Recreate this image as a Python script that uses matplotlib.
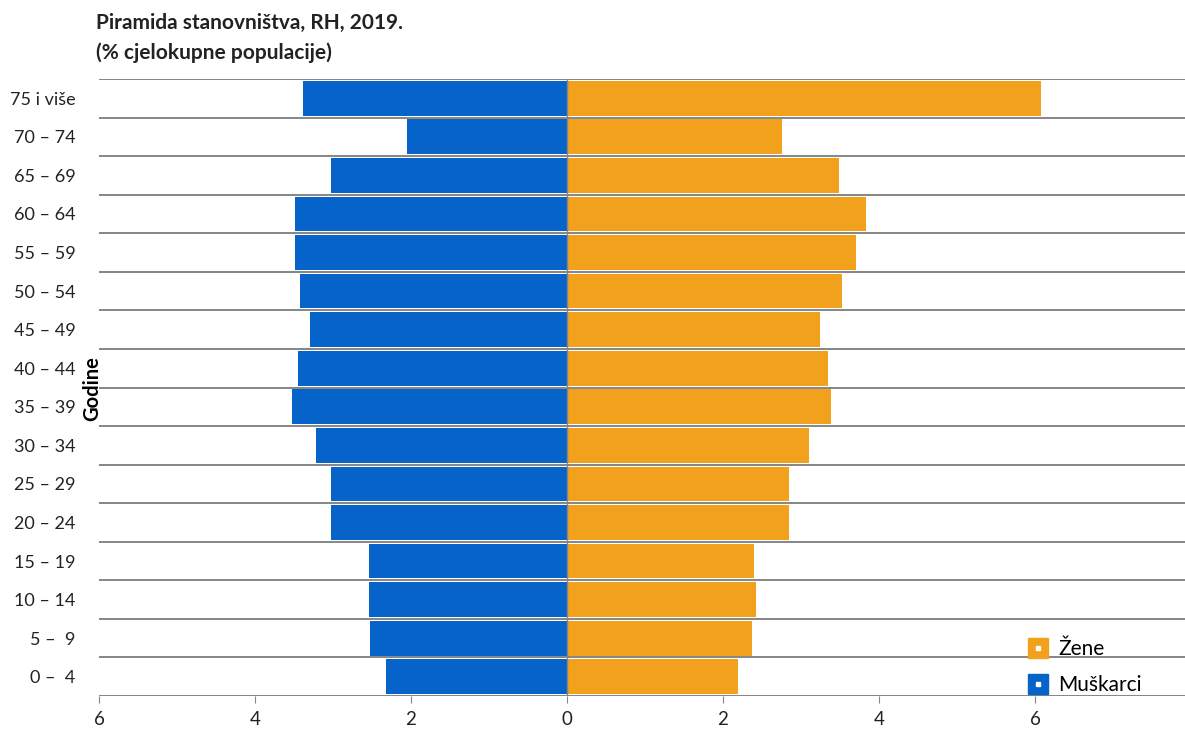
import numpy as np
import matplotlib
matplotlib.use("Agg")
import matplotlib.pyplot as plt
from matplotlib.lines import Line2D

plt.rcParams['font.family'] = ['Lato', 'DejaVu Sans']

# dobne skupine, od najmlađe prema najstarijoj
dobne_skupine = ['0 –  4', '5 –  9', '10 – 14', '15 – 19', '20 – 24', '25 – 29',
                 '30 – 34', '35 – 39', '40 – 44', '45 – 49', '50 – 54', '55 – 59',
                 '60 – 64', '65 – 69', '70 – 74', '75 i više']
muskarci = [2.32, 2.53, 2.54, 2.54, 3.03, 3.03, 3.22, 3.53, 3.45, 3.29, 3.42,
            3.49, 3.49, 3.03, 2.05, 3.38]
zene = [2.19, 2.37, 2.42, 2.40, 2.85, 2.85, 3.10, 3.38, 3.35, 3.24, 3.53,
        3.71, 3.83, 3.49, 2.76, 6.08]
x_oznake = [-6, -4, -2, 0, 2, 4, 6, 8]

plava = '#0563c9'
narancasta = '#f2a11c'
siva = '#858585'

W, H = 1185, 733
fig = plt.figure(figsize=(W / 100, H / 100), dpi=100)
ax = fig.add_axes([99 / W, 1 - 696 / H, 1092 / W, 617 / H])

y = np.arange(len(dobne_skupine))
ax.barh(y, -np.array(muskarci), height=0.9, color=plava, zorder=2)
ax.barh(y, zene, height=0.9, color=narancasta, zorder=2)

# sive linije između skupina
for b in np.arange(-0.5, len(dobne_skupine), 1.0):
    ax.axhline(b, color=siva, lw=1.4, zorder=1)
ax.axvline(0, color=siva, lw=1, zorder=3)

ax.set_xlim(-6, 8)
ax.set_ylim(-0.5, len(dobne_skupine) - 0.5)
ax.set_yticks(y)
ax.set_yticklabels(dobne_skupine, fontsize=13, color='#222222')
ax.set_xticks(x_oznake)
ax.set_xticklabels([str(abs(v)) for v in x_oznake], fontsize=13.5, color='#222222')
ax.tick_params(axis='y', length=0, pad=17)
ax.tick_params(axis='x', length=5, color=siva, pad=6)
for s in ax.spines.values():
    s.set_visible(False)

fig.text(92 / W, 1 - 389 / H, 'Godine', rotation=90, fontsize=14.5,
         fontweight='bold', ha='center', va='center')

fig.text(96 / W, 1 - 23 / H, 'Piramida stanovništva, RH, 2019.', fontsize=15,
         fontweight='bold', ha='left', va='center', color='#222222')
fig.text(96 / W, 1 - 53 / H, '(% cjelokupne populacije)', fontsize=15,
         fontweight='bold', ha='left', va='center', color='#222222')

h_z = (Line2D([], [], ls='', marker='s', ms=14, color=narancasta),
       Line2D([], [], ls='', marker='s', ms=3.5, color='white'))
h_m = (Line2D([], [], ls='', marker='s', ms=14, color=plava),
       Line2D([], [], ls='', marker='s', ms=3.5, color='white'))
fig.legend([h_z, h_m], ['Žene', 'Muškarci'], loc='center left',
           bbox_to_anchor=(1010 / W, 1 - 667 / H), frameon=False, fontsize=15,
           handlelength=0.9, handletextpad=0.5, labelspacing=0.75)

fig.savefig('out.png', dpi=100)
